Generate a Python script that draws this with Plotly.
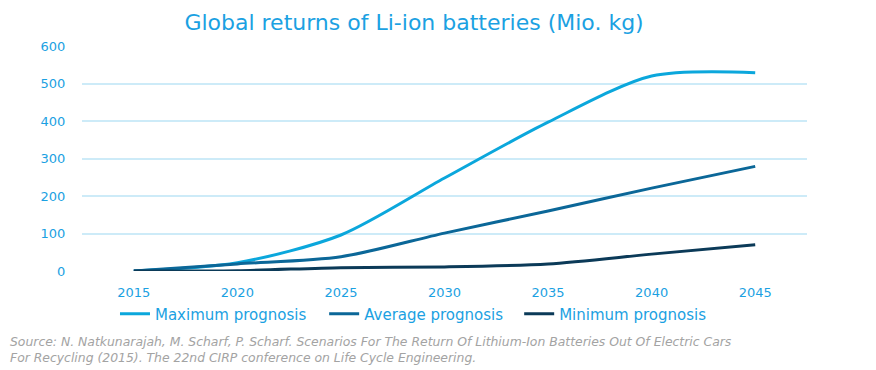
import plotly.graph_objects as go

years = [2015, 2020, 2025, 2030, 2035, 2040, 2045]
max_prog = [0, 22, 96, 248, 397, 520, 529]
avg_prog = [0, 19, 38, 101, 160, 221, 279]
min_prog = [0, 1, 9, 11, 19, 45, 70]
y_ticks = [0, 100, 200, 300, 400, 500, 600]

names = ["Maximum prognosis", "Average prognosis", "Minimum prognosis"]
colors = ["#0BA7DC", "#0B6798", "#0B3A58"]
series = [max_prog, avg_prog, min_prog]
legend_ids = ["legend", "legend2", "legend3"]
legend_x = [0.0455, 0.334, 0.603]

text_blue = "#1BA1E2"
font_family = "DejaVu Sans, sans-serif"

fig = go.Figure()
for n, c, s, lg in zip(names, colors, series, legend_ids):
    fig.add_trace(go.Scatter(
        x=years, y=s, name=n, mode="lines", legend=lg,
        line=dict(color=c, width=3, shape="spline", smoothing=0.8),
    ))

legend_style = dict(orientation="h", xanchor="left", y=-0.191, yanchor="middle",
                    font=dict(size=15, color=text_blue, family=font_family),
                    bgcolor="rgba(0,0,0,0)")

# page body has an 8px margin, so the figure is shifted by 8px
fig.update_layout(
    width=868, height=362,
    margin=dict(l=74, r=69, t=38, b=99),
    paper_bgcolor="white", plot_bgcolor="white",
    font=dict(family=font_family, color=text_blue, size=13),
    title=dict(text="Global returns of Li-ion batteries (Mio. kg)",
               xref="paper", x=0.458, xanchor="center",
               yref="container", y=0.961, yanchor="middle",
               font=dict(size=22, color=text_blue, family=font_family)),
    xaxis=dict(range=[2012.5, 2047.5], tickmode="array", tickvals=years,
               ticktext=[str(y) for y in years], showgrid=False, zeroline=False,
               showline=False, ticks="outside", ticklen=9, tickcolor="rgba(0,0,0,0)",
               automargin=False,
               tickfont=dict(size=13, color=text_blue)),
    yaxis=dict(range=[0, 600], tickmode="array", tickvals=y_ticks,
               gridcolor="#CDEBF8", gridwidth=1.5, zeroline=False, showline=False,
               ticks="outside", ticklen=13, tickcolor="rgba(0,0,0,0)",
               automargin=False,
               tickfont=dict(size=13, color=text_blue)),
    legend=dict(x=legend_x[0], **legend_style),
    legend2=dict(x=legend_x[1], **legend_style),
    legend3=dict(x=legend_x[2], **legend_style),
    showlegend=True,
)

fig.add_annotation(
    text="Source: N. Natkunarajah, M. Scharf, P. Scharf. Scenarios For The Return Of Lithium-Ion Batteries Out Of Electric Cars<br>For Recycling (2015). The 22nd CIRP conference on Life Cycle Engineering.",
    xref="paper", yref="paper", x=-74/725, y=-0.272, xanchor="left", yanchor="top",
    align="left", showarrow=False,
    font=dict(size=12.4, color="#A3A3A3", family=font_family, style="italic"),
)

fig.write_html("out.html")
